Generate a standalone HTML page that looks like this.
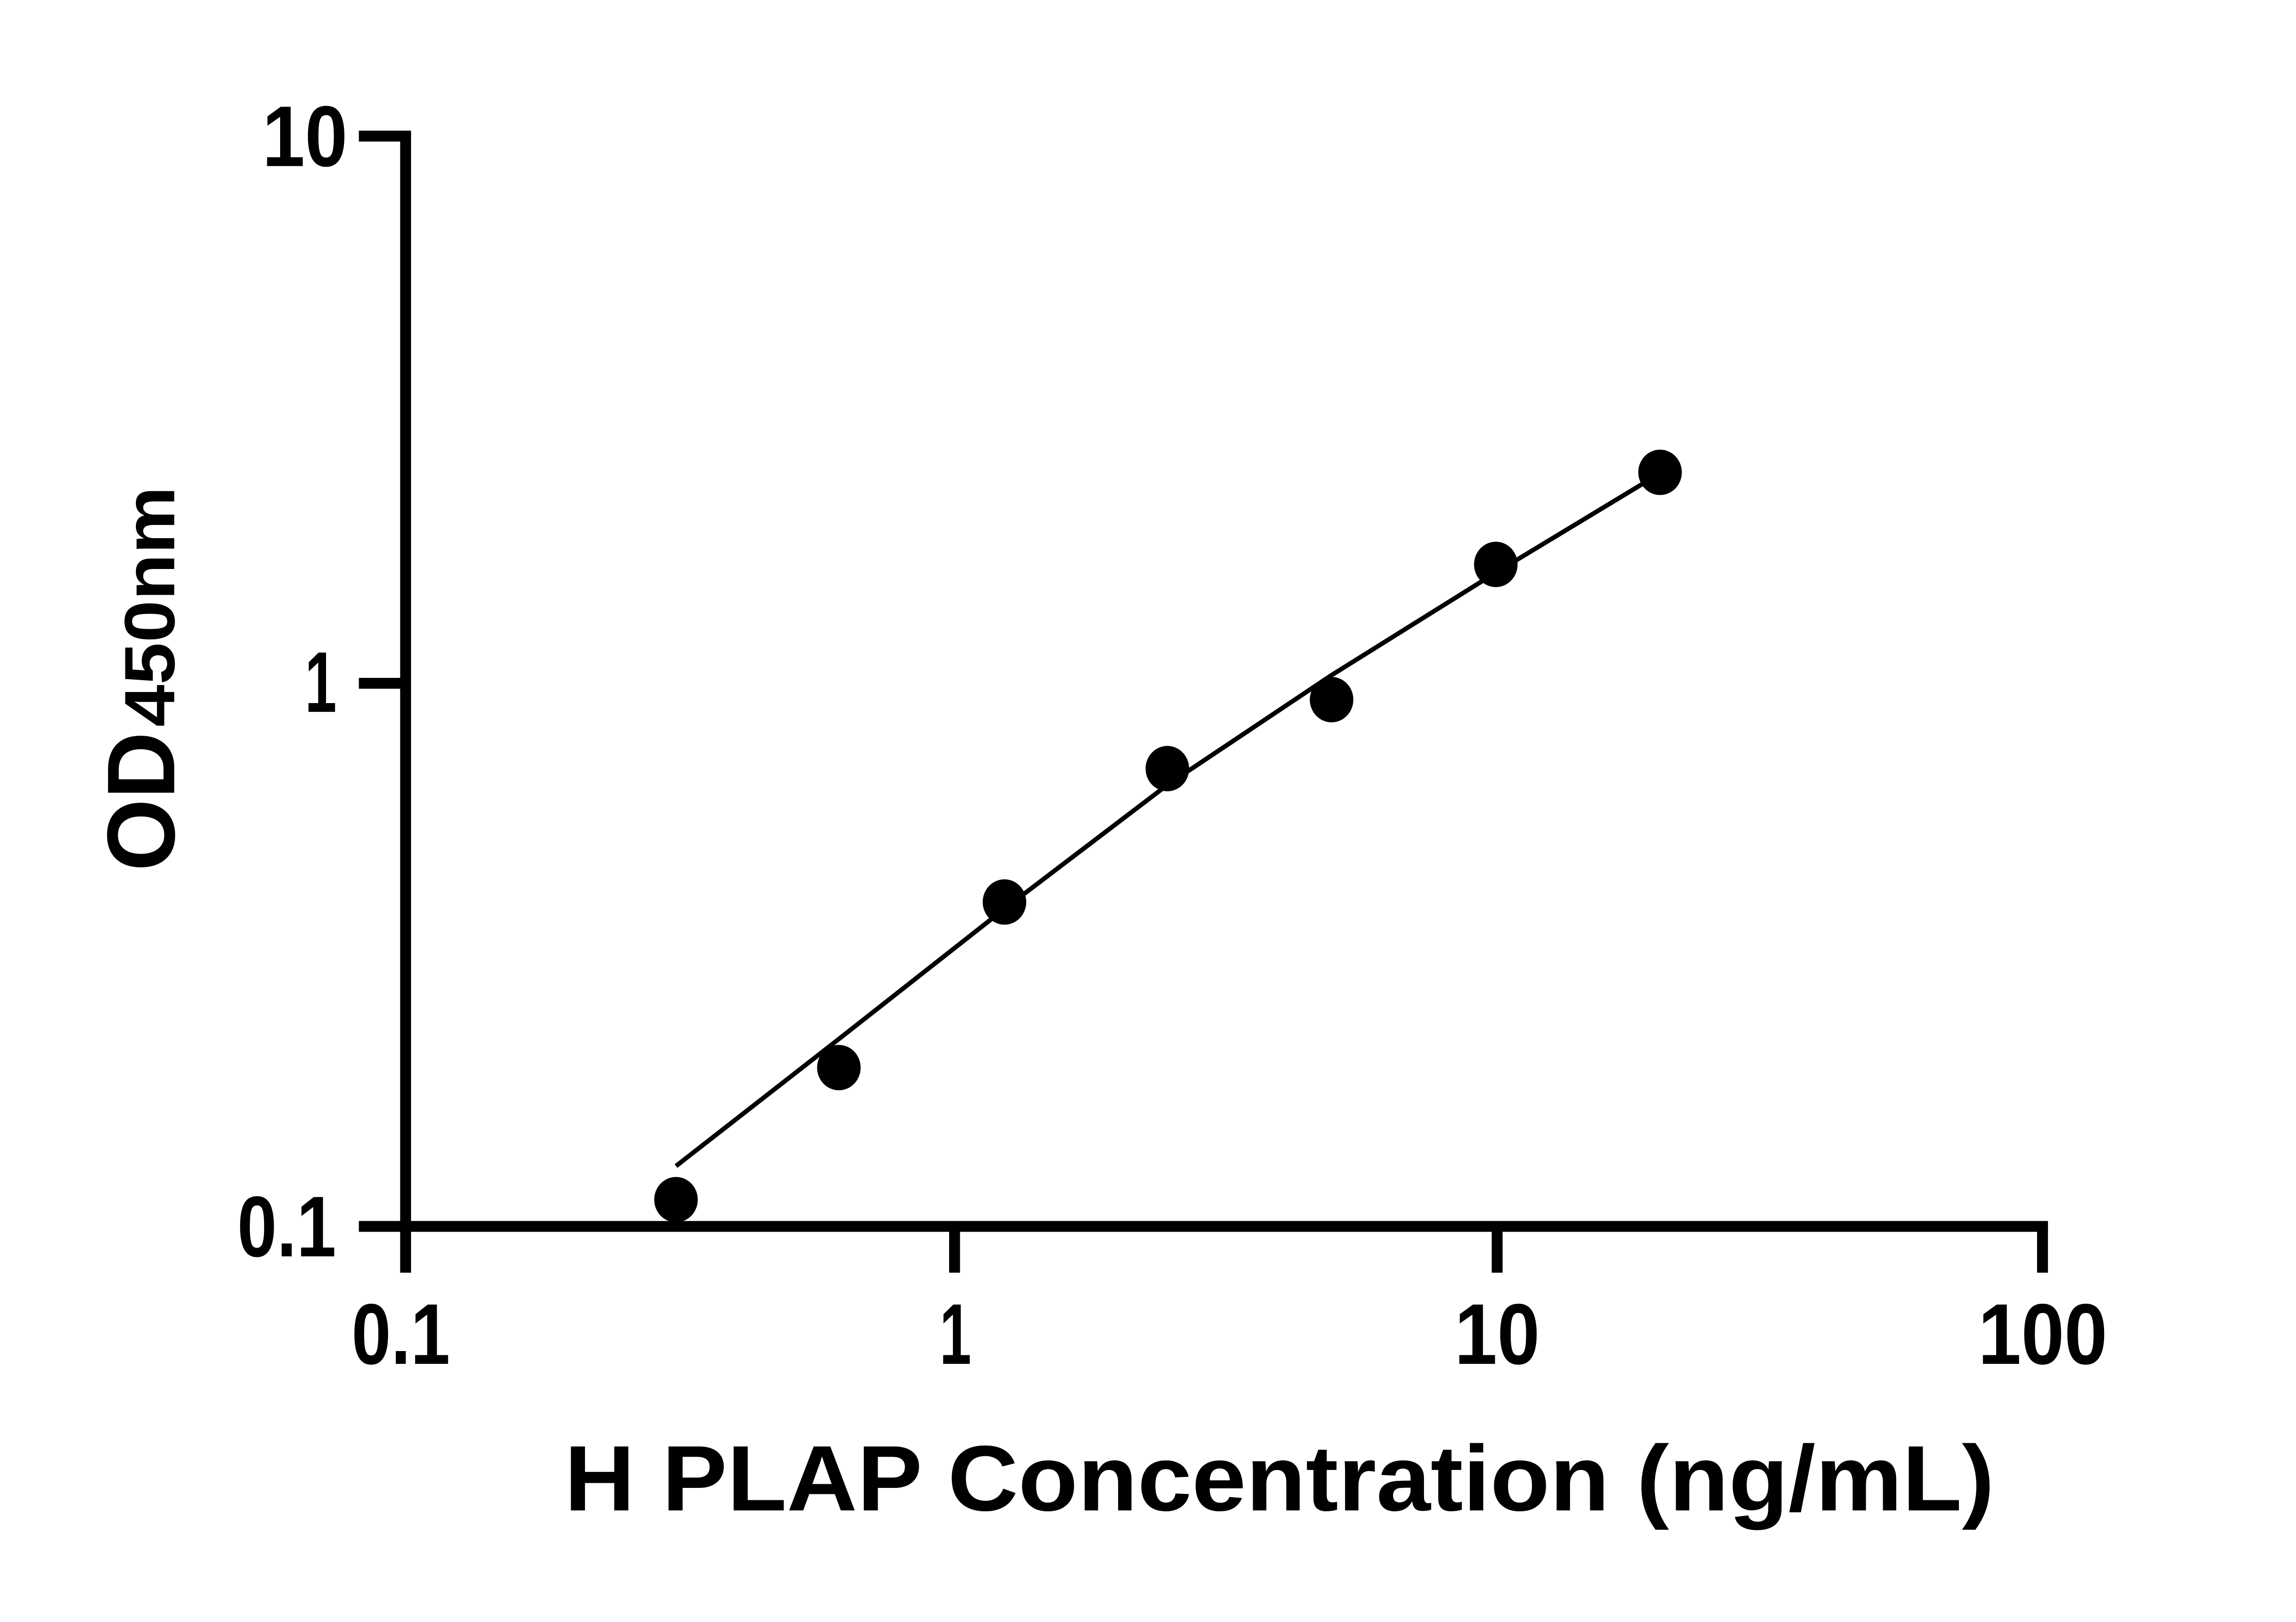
<!DOCTYPE html>
<html><head><style>html,body{margin:0;padding:0;background:#fff;}svg{display:block}</style></head>
<body>
<svg width="5054" height="3532" viewBox="0 0 5054 3532" xmlns="http://www.w3.org/2000/svg">
<rect width="5054" height="3532" fill="#fff"/>
<g transform="scale(0.988)">
<g stroke="#000" stroke-width="24" fill="none">
<line x1="894" y1="288" x2="894" y2="2805"/>
<line x1="791" y1="2703" x2="4514" y2="2703"/>
<line x1="791" y1="300" x2="894" y2="300"/>
<line x1="791" y1="1506" x2="894" y2="1506"/>
<line x1="2104" y1="2703" x2="2104" y2="2805"/>
<line x1="3300" y1="2703" x2="3300" y2="2805"/>
<line x1="4502" y1="2703" x2="4502" y2="2805"/>
</g>
<polyline fill="none" stroke="#000" stroke-width="10" points="1490,2570 1849,2290 2214,2003 2573,1730 2935,1488 3297,1262 3636,1057"/>
<g fill="#000">
<ellipse cx="1490" cy="2644" rx="48" ry="50"/>
<ellipse cx="1849" cy="2353" rx="48" ry="50"/>
<ellipse cx="2214" cy="1988" rx="48" ry="50"/>
<ellipse cx="2573" cy="1694" rx="48" ry="50"/>
<ellipse cx="2935" cy="1542" rx="48" ry="50"/>
<ellipse cx="3297" cy="1244" rx="48" ry="50"/>
<ellipse cx="3659" cy="1041" rx="48" ry="50"/>
</g>
<g font-family="Liberation Sans, sans-serif" font-weight="bold" font-size="190" fill="#000">
<text x="578" y="366" textLength="188" lengthAdjust="spacingAndGlyphs">10</text>
<text x="672" y="1569" textLength="70" lengthAdjust="spacingAndGlyphs">1</text>
<text x="523" y="2769" textLength="218" lengthAdjust="spacingAndGlyphs">0.1</text>
<text x="775" y="3006" textLength="217" lengthAdjust="spacingAndGlyphs">0.1</text>
<text x="2071" y="3006" textLength="70" lengthAdjust="spacingAndGlyphs">1</text>
<text x="3206" y="3006" textLength="188" lengthAdjust="spacingAndGlyphs">10</text>
<text x="4360" y="3006" textLength="285" lengthAdjust="spacingAndGlyphs">100</text>
</g>
<text x="1244" y="3329" font-family="Liberation Sans, sans-serif" font-weight="bold" font-size="205" textLength="3152" lengthAdjust="spacingAndGlyphs">H PLAP Concentration (ng/mL)</text>
<g transform="translate(384,1920) rotate(-90)" font-family="Liberation Sans, sans-serif" font-weight="bold" fill="#000">
<text x="0" y="0" font-size="212" textLength="307" lengthAdjust="spacingAndGlyphs">OD</text>
<text x="318" y="0" font-size="157" textLength="530" lengthAdjust="spacingAndGlyphs">450nm</text>
</g>
</g>
</svg>
</body></html>
